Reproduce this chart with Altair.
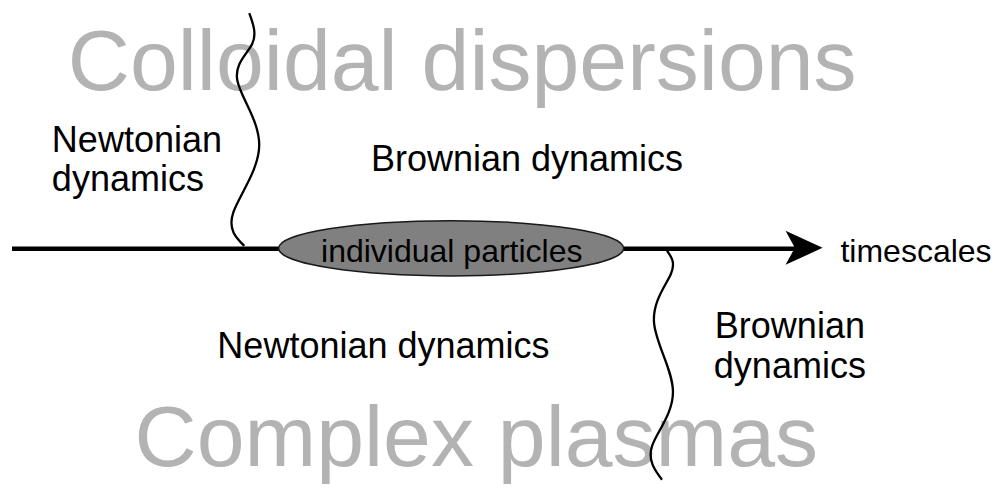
import altair as alt
import pandas as pd

# ---- diagram data (pixel-like coordinates of the drawing) ----
axis_x = [12, 800]
axis_y = [251, 251]

arrow_x = [806.5]
arrow_y = [250]

ellipse_x = [452.5]
ellipse_y = [250.5]

wave1_x = [250, 253, 238, 260, 234, 245]
wave1_y = [5, 37, 75, 143, 213, 248]

wave2_x = [669, 673, 656, 675, 654, 664]
wave2_y = [253, 277, 328, 400, 457, 492]

big_labels = ["Colloidal dispersions", "Complex plasmas"]
big_x = [68, 135]
big_y = [85, 478]

labels = ["Newtonian", "dynamics", "Brownian dynamics", "Newtonian dynamics", "Brownian", "dynamics"]
labels_x = [52, 52, 372, 218, 717, 716]
labels_y = [150, 191, 170, 365, 344, 386]

small_labels = ["individual particles", "timescales"]
small_x = [322, 843]
small_y = [265, 265]

FONT = "Liberation Sans"

X = lambda f: alt.X(f, type="quantitative", scale=alt.Scale(domain=[8, 992], nice=False, zero=False), axis=None)
Y = lambda f: alt.Y(f, type="quantitative", scale=alt.Scale(domain=[8, 485], nice=False, zero=False, reverse=True), axis=None)

big_df = pd.DataFrame({"t": big_labels, "x": big_x, "y": big_y})
lab_df = pd.DataFrame({"t": labels, "x": labels_x, "y": labels_y})
small_df = pd.DataFrame({"t": small_labels, "x": small_x, "y": small_y})
axis_df = pd.DataFrame({"x": [axis_x[0]], "x2": [axis_x[1]], "y": [axis_y[0]]})
w1 = pd.DataFrame({"x": wave1_x, "y": wave1_y, "i": range(len(wave1_x))})
w2 = pd.DataFrame({"x": wave2_x, "y": wave2_y, "i": range(len(wave2_x))})
ell_df = pd.DataFrame({"x": ellipse_x, "y": ellipse_y})
arr_df = pd.DataFrame({"x": arrow_x, "y": arrow_y})

big = alt.Chart(big_df).mark_text(
    align="left", baseline="alphabetic", font=FONT, fontSize=86, color="#b3b3b3"
).encode(x=X("x"), y=Y("y"), text="t:N")

axis_line = alt.Chart(axis_df).mark_rule(color="black", strokeWidth=4.5).encode(
    x=X("x"), x2="x2:Q", y=Y("y")
)

wave1 = alt.Chart(w1).mark_line(interpolate="natural", color="black", strokeWidth=2.3).encode(
    x=X("x"), y=Y("y"), order="i:Q"
)
wave2 = alt.Chart(w2).mark_line(interpolate="natural", color="black", strokeWidth=2.3).encode(
    x=X("x"), y=Y("y"), order="i:Q"
)

ellipse_path = ("M -1 0 C -1 -0.0883 -0.5523 -0.16 0 -0.16 "
                "C 0.5523 -0.16 1 -0.0883 1 0 "
                "C 1 0.0883 0.5523 0.16 0 0.16 "
                "C -0.5523 0.16 -1 0.0883 -1 0 Z")
ellipse = alt.Chart(ell_df).mark_point(
    shape=ellipse_path, size=345 * 345, filled=True, fill="#808080", fillOpacity=1,
    stroke="#1a1a1a", strokeWidth=1.5, opacity=1
).encode(x=X("x"), y=Y("y"))

arrow = alt.Chart(arr_df).mark_point(
    shape="M 1 0 L -1 -0.92 L -0.5 0 L -1 0.92 Z", size=37 * 37, filled=True,
    fill="black", fillOpacity=1, opacity=1, strokeWidth=0
).encode(x=X("x"), y=Y("y"))

mid = alt.Chart(lab_df).mark_text(
    align="left", baseline="alphabetic", font=FONT, fontSize=36, color="black"
).encode(x=X("x"), y=Y("y"), text="t:N")

small = alt.Chart(small_df).mark_text(
    align="left", baseline="alphabetic", font=FONT, fontSize=32, color="black"
).encode(x=X("x"), y=Y("y"), text="t:N")

chart = alt.layer(big, axis_line, wave1, wave2, ellipse, arrow, mid, small).properties(
    width=984, height=477, padding=0,
    autosize=alt.AutoSizeParams(type="fit", contains="padding"),
    background="white",
).configure_view(strokeWidth=0)

chart.save("out.html", embed_options={"renderer": "svg", "actions": False})
